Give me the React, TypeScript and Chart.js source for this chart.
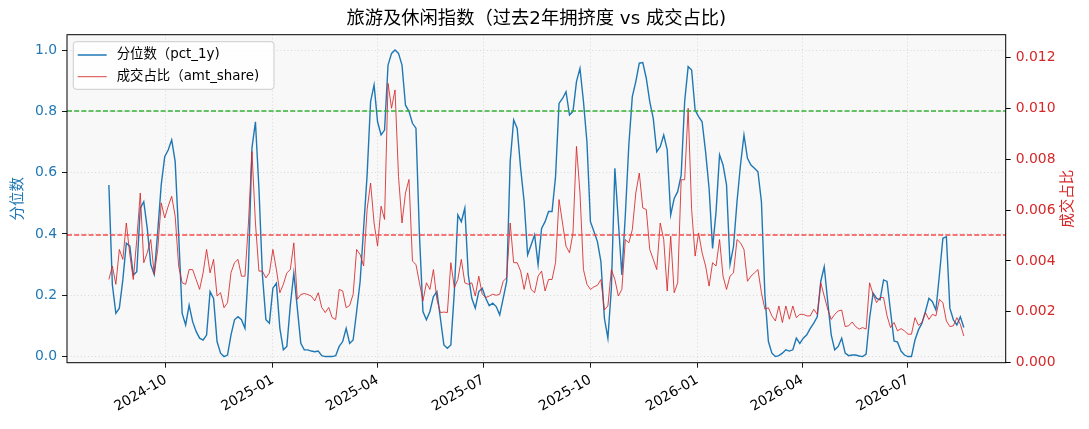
import { useEffect, useRef } from 'react';
import { Chart, registerables } from 'chart.js';

Chart.register(...registerables);

const TITLE = '旅游及休闲指数（过去2年拥挤度 vs 成交占比)';
const LEFT_LABEL = '分位数';
const RIGHT_LABEL = '成交占比';
const PCT_LABEL = '分位数（pct_1y)';
const AMT_LABEL = '成交占比（amt_share)';

// first sample date and spacing of the samples
const FIRST_DATE = '2024-08-13';
const STEP_DAYS = 3;
const X_START = '2024-07-08';
const X_END = '2026-09-23';
const X_TICKS = ['2024-10', '2025-01', '2025-04', '2025-07', '2025-10', '2026-01', '2026-04', '2026-07'];

const LEFT_TICKS = [0, 0.2, 0.4, 0.6, 0.8, 1.0];
const RIGHT_TICKS = [0, 0.002, 0.004, 0.006, 0.008, 0.01, 0.012];
const PCT_HIGH = 0.8;
const SHARE_REF = 0.005;

const pct1y = [
  0.56, 0.234, 0.141, 0.158, 0.25, 0.37, 0.36, 0.266, 0.277, 0.484,
  0.505, 0.418, 0.3, 0.268, 0.408, 0.56, 0.652, 0.674, 0.707, 0.636,
  0.397, 0.141, 0.103, 0.168, 0.114, 0.082, 0.06, 0.054, 0.07, 0.212,
  0.19, 0.049, 0.011, 0.0, 0.005, 0.071, 0.12, 0.13, 0.12, 0.092,
  0.288, 0.68, 0.766, 0.549, 0.266, 0.12, 0.109, 0.223, 0.239, 0.092,
  0.022, 0.033, 0.168, 0.272, 0.158, 0.043, 0.022, 0.022, 0.018, 0.016,
  0.018, 0.003, 0.0, 0.0, 0.0, 0.003, 0.033, 0.049, 0.092, 0.043,
  0.054, 0.147, 0.245, 0.418, 0.592, 0.832, 0.886, 0.766, 0.723, 0.739,
  0.951, 0.989, 1.0, 0.989, 0.951, 0.82, 0.8, 0.761, 0.745, 0.397,
  0.147, 0.12, 0.147, 0.196, 0.212, 0.125, 0.038, 0.027, 0.038, 0.212,
  0.462, 0.44, 0.484, 0.266, 0.19, 0.158, 0.212, 0.223, 0.19, 0.166,
  0.174, 0.163, 0.136, 0.19, 0.245, 0.636, 0.772, 0.745, 0.614, 0.505,
  0.332, 0.364, 0.397, 0.3, 0.418, 0.44, 0.473, 0.473, 0.587, 0.826,
  0.842, 0.864, 0.788, 0.8, 0.897, 0.94, 0.832, 0.7, 0.44, 0.408,
  0.375, 0.31, 0.125, 0.06, 0.223, 0.614, 0.44, 0.266, 0.462, 0.69,
  0.848, 0.897, 0.957, 0.959, 0.908, 0.832, 0.777, 0.668, 0.685, 0.723,
  0.674, 0.462, 0.516, 0.538, 0.592, 0.832, 0.946, 0.935, 0.804, 0.783,
  0.766, 0.668, 0.549, 0.353, 0.473, 0.658, 0.625, 0.56, 0.3, 0.359,
  0.505, 0.625, 0.723, 0.647, 0.625, 0.614, 0.603, 0.505, 0.2, 0.049,
  0.011, 0.0, 0.003, 0.011, 0.022, 0.018, 0.022, 0.06, 0.043, 0.06,
  0.071, 0.092, 0.109, 0.13, 0.245, 0.293, 0.179, 0.071, 0.022, 0.033,
  0.06, 0.011, 0.003, 0.005, 0.005, 0.002, 0.0, 0.008, 0.125, 0.207,
  0.19, 0.185, 0.25, 0.245, 0.147, 0.051, 0.047, 0.018, 0.005, 0.0,
  0.0, 0.054, 0.087, 0.109, 0.147, 0.19, 0.179, 0.152, 0.266, 0.386,
  0.391, 0.158, 0.12, 0.103, 0.13, 0.095,
];

// amt_share in per-mille (‰)
const amtSharePermille = [
  3.27, 3.8, 3.08, 4.45, 4.06, 5.49, 4.25, 3.27, 4.84, 6.67,
  3.93, 4.32, 4.84, 3.47, 4.45, 6.28, 5.69, 6.15, 6.54, 5.76,
  3.8, 3.14, 3.08, 3.66, 3.66, 3.27, 2.88, 3.53, 4.45, 3.53,
  4.06, 2.62, 2.75, 2.16, 2.36, 3.54, 3.93, 4.06, 3.4, 3.4,
  5.49, 8.3, 5.49, 3.6, 3.6, 3.33, 3.53, 4.45, 3.66, 2.75,
  3.08, 3.53, 3.66, 4.71, 2.49, 2.68, 2.72, 2.68, 2.62, 2.43,
  2.75, 2.17, 1.97, 2.17, 1.77, 1.7, 2.88, 2.82, 2.16, 2.25,
  2.69, 4.45, 4.25, 3.8, 6.02, 7.06, 5.49, 4.58, 6.15, 5.63,
  10.98, 10.0, 10.72, 7.32, 5.49, 6.67, 7.2, 3.99, 3.86, 3.14,
  2.43, 3.14, 2.88, 3.66, 2.49, 1.97, 1.99, 1.97, 3.93, 2.95,
  3.27, 4.06, 3.14, 3.08, 3.14, 2.62, 3.4, 2.69, 2.56, 2.62,
  2.69, 2.65, 2.69, 3.2, 3.34, 5.49, 3.93, 3.93, 3.6, 2.88,
  3.53, 2.88, 2.75, 3.4, 3.6, 2.82, 3.27, 3.27, 3.93, 6.41,
  5.49, 4.58, 4.32, 5.1, 8.5, 6.67, 3.66, 3.08, 2.88, 2.98,
  3.04, 3.27, 2.07, 2.23, 3.66, 3.27, 2.62, 2.88, 4.84, 4.71,
  5.23, 6.67, 7.45, 6.08, 6.02, 4.45, 4.06, 3.66, 5.49, 4.84,
  2.82, 4.97, 2.75, 3.14, 7.19, 7.19, 10.0, 6.02, 4.19, 5.1,
  4.32, 3.8, 3.01, 3.93, 3.8, 4.84, 3.4, 2.88, 3.4, 3.53,
  4.84, 4.71, 4.45, 3.2, 3.4, 3.53, 3.66, 2.75, 2.1, 2.16,
  1.84, 1.64, 2.23, 1.58, 2.23, 1.71, 2.23, 1.77, 1.9, 1.9,
  1.84, 1.84, 2.1, 1.9, 3.14, 2.62, 2.1, 1.7, 1.9, 2.03,
  2.07, 1.42, 1.45, 1.6, 1.42, 1.32, 1.38, 1.32, 3.14, 2.69,
  2.36, 2.56, 2.56, 1.84, 1.38, 1.58, 1.25, 1.34, 1.25, 1.12,
  1.12, 1.77, 1.47, 1.58, 1.97, 1.7, 1.9, 1.84, 2.49, 2.36,
  1.64, 1.42, 1.45, 1.77, 1.51, 1.05,
];

const W = 1089;
const H = 429;
const PLOT = { left: 67, top: 34.7, right: 1005.7, bottom: 362.7 };
const BLUE = '#1f77b4';
const RED = '#d62728';
const FONT = "'DejaVu Sans', 'Noto Sans CJK SC', sans-serif";

const dayOf = (iso: string) =>
  Date.UTC(+iso.slice(0, 4), +iso.slice(5, 7) - 1, iso.length > 7 ? +iso.slice(8, 10) : 1) / 86400000;

const decor = {
  id: 'decor',
  beforeDraw(chart: Chart) {
    const { ctx, chartArea: a } = chart;
    ctx.save();
    ctx.fillStyle = '#fff';
    ctx.fillRect(0, 0, chart.width, chart.height);
    ctx.fillStyle = '#f8f8f8';
    ctx.fillRect(a.left, a.top, a.right - a.left, a.bottom - a.top);
    ctx.restore();
  },
  afterDatasetsDraw(chart: Chart) {
    const { ctx, chartArea: a, scales } = chart;
    const hline = (y: number, color: string) => {
      const py = Math.round(y);
      ctx.save();
      ctx.globalAlpha = 1;
      ctx.lineWidth = 1.4;
      ctx.setLineDash([5, 2.2]);
      ctx.strokeStyle = color;
      ctx.beginPath();
      ctx.moveTo(a.left, py);
      ctx.lineTo(a.right, py);
      ctx.stroke();
      ctx.restore();
    };
    hline(scales.y.getPixelForValue(PCT_HIGH), 'rgb(55,175,55)');
    hline(scales.y1.getPixelForValue(SHARE_REF), 'rgb(245,75,75)');
  },
  afterDraw(chart: Chart) {
    const { ctx, chartArea: a } = chart;
    ctx.save();
    ctx.strokeStyle = '#000';
    ctx.lineWidth = 1;
    ctx.strokeRect(a.left, a.top, a.right - a.left, a.bottom - a.top);

    ctx.fillStyle = '#000';
    ctx.textAlign = 'center';
    ctx.textBaseline = 'middle';
    ctx.font = `18.3px ${FONT}`;
    ctx.fillText(TITLE, (a.left + a.right) / 2, 19.5);

    const midY = (a.top + a.bottom) / 2;
    ctx.font = `14.5px ${FONT}`;
    ctx.save();
    ctx.translate(18, midY);
    ctx.rotate(-Math.PI / 2);
    ctx.fillStyle = BLUE;
    ctx.fillText(LEFT_LABEL, 0, 0);
    ctx.restore();
    ctx.save();
    ctx.translate(1068, midY);
    ctx.rotate(-Math.PI / 2);
    ctx.fillStyle = RED;
    ctx.fillText(RIGHT_LABEL, 0, 0);
    ctx.restore();

    // legend box
    const lx = a.left + 6.3;
    const ly = a.top + 7;
    const lw = 200.7;
    const lh = 47.6;
    ctx.beginPath();
    ctx.roundRect(lx, ly, lw, lh, 3);
    ctx.fillStyle = 'rgba(255,255,255,0.8)';
    ctx.fill();
    ctx.strokeStyle = '#cccccc';
    ctx.lineWidth = 1;
    ctx.stroke();
    const rows = [
      { label: PCT_LABEL, color: BLUE, width: 1.5, y: ly + 13.3 },
      { label: AMT_LABEL, color: 'rgba(214,39,40,0.85)', width: 1, y: ly + 35 },
    ];
    ctx.font = `13.4px ${FONT}`;
    ctx.textAlign = 'left';
    rows.forEach((r) => {
      ctx.strokeStyle = r.color;
      ctx.lineWidth = r.width;
      ctx.beginPath();
      ctx.moveTo(lx + 4.4, r.y);
      ctx.lineTo(lx + 33.4, r.y);
      ctx.stroke();
      ctx.fillStyle = '#000';
      ctx.fillText(r.label, lx + 43.4, r.y);
    });
    ctx.restore();
  },
};

export default function App() {
  const canvasRef = useRef<HTMLCanvasElement | null>(null);

  useEffect(() => {
    const canvas = canvasRef.current;
    if (!canvas) {
      return;
    }
    const start = dayOf(FIRST_DATE);
    const tickFont = { family: FONT, size: 13.9 };

    const chart = new Chart(canvas, {
      type: 'line',
      data: {
        datasets: [
          {
            label: AMT_LABEL,
            data: amtSharePermille.map((v, i) => ({ x: start + i * STEP_DAYS, y: v / 1000 })),
            yAxisID: 'y1',
            borderColor: 'rgba(214,39,40,0.85)',
            borderWidth: 1,
            pointRadius: 0,
            tension: 0,
          },
          {
            label: PCT_LABEL,
            data: pct1y.map((v, i) => ({ x: start + i * STEP_DAYS, y: v })),
            yAxisID: 'y',
            borderColor: BLUE,
            borderWidth: 1.4,
            pointRadius: 0,
            tension: 0,
          },
        ],
      },
      options: {
        animation: false,
        responsive: true,
        maintainAspectRatio: false,
        layout: { padding: { top: PLOT.top, left: 0, right: 0, bottom: 0 } },
        plugins: {
          legend: { display: false },
          title: { display: false },
          tooltip: { enabled: false },
        },
        scales: {
          x: {
            type: 'linear',
            position: 'bottom',
            min: dayOf(X_START),
            max: dayOf(X_END),
            afterBuildTicks: (s) => {
              s.ticks = X_TICKS.map((t) => ({ value: dayOf(t) }));
            },
            afterFit: (s) => {
              s.height = H - PLOT.bottom;
            },
            ticks: {
              autoSkip: false,
              minRotation: 30,
              maxRotation: 30,
              padding: 4,
              color: '#000',
              font: tickFont,
              callback: (_v, i) => X_TICKS[i],
            },
            grid: { color: 'rgba(0,0,0,0.14)', tickColor: '#000', tickLength: 5, lineWidth: 0.9 },
            border: { display: false, dash: [1, 2.5] },
          },
          y: {
            position: 'left',
            min: -0.02,
            max: 1.05,
            afterBuildTicks: (s) => {
              s.ticks = LEFT_TICKS.map((v) => ({ value: v }));
            },
            afterFit: (s) => {
              s.width = PLOT.left;
            },
            ticks: {
              color: BLUE,
              padding: 5,
              font: tickFont,
              callback: (v) => Number(v).toFixed(1),
            },
            grid: { color: 'rgba(0,0,0,0.14)', tickColor: '#000', tickLength: 5, lineWidth: 0.9 },
            border: { display: false, dash: [1, 2.5] },
          },
          y1: {
            position: 'right',
            min: 0,
            max: 0.01289,
            afterBuildTicks: (s) => {
              s.ticks = RIGHT_TICKS.map((v) => ({ value: v }));
            },
            afterFit: (s) => {
              s.width = W - PLOT.right;
            },
            ticks: {
              color: RED,
              padding: 5,
              font: tickFont,
              callback: (v) => Number(v).toFixed(3),
            },
            grid: { drawOnChartArea: false, tickColor: '#000', tickLength: 5 },
            border: { display: false },
          },
        },
      },
      plugins: [decor],
    });

    return () => {
      chart.destroy();
    };
  }, []);

  return (
    <div style={{ position: 'absolute', left: 0, top: 0, width: `${W}px`, height: `${H}px` }}>
      <canvas ref={canvasRef} role="img" aria-label={TITLE} />
    </div>
  );
}
